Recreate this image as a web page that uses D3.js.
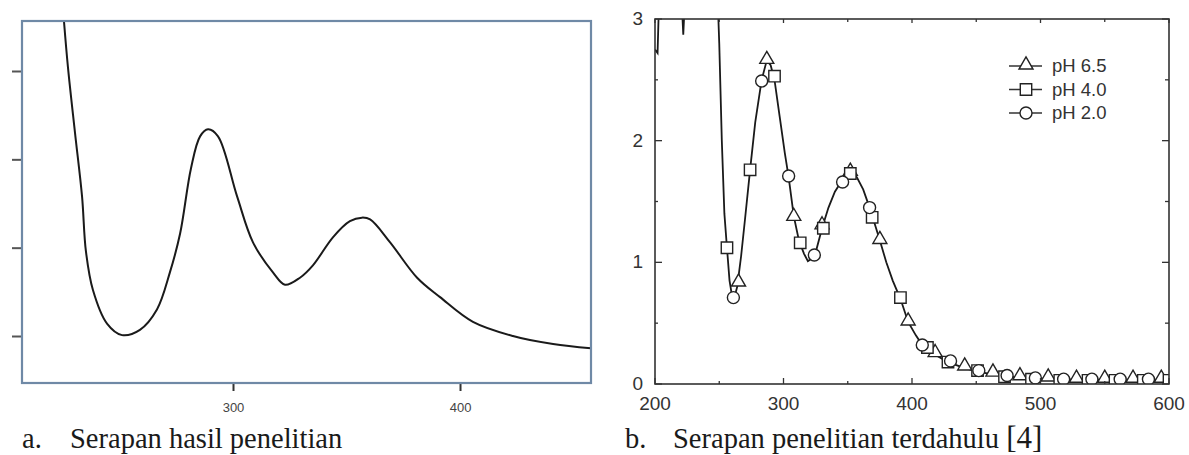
<!DOCTYPE html>
<html lang="id">
<head>
    <meta charset="UTF-8">
    <title>Serapan UV-Vis</title>
    <style>
        body { margin: 0; background: #fff; }
        #chart { width: 1189px; height: 455px; }
    </style>
</head>
<body>
    <div id="chart"></div>

    <script src="https://d3js.org/d3.v7.min.js"></script>
    <script>
        // ---- panel a: hasil penelitian (absorbance, no y labels) ----
        const aWave = [225.3, 227.3, 230.4, 233.5, 235.2, 238.3, 244.5, 251.1, 259.0, 266.5, 272.2, 276.7,
                       281.5, 285.5, 289.0, 293.4, 301.8, 308.8, 317.6, 322.9, 329.5, 335.2, 344.1, 351.5, 356.8, 360.4,
                       369.2, 381.1, 391.2, 405.7, 423.3, 441.0, 457.7];
        const aAbs  = [2.32, 2.02, 1.65, 1.29, 0.98, 0.76, 0.57, 0.505, 0.535, 0.65, 0.86, 1.08,
                       1.45, 1.63, 1.67, 1.63, 1.29, 1.03, 0.86, 0.79, 0.83, 0.90, 1.06, 1.15, 1.17, 1.16,
                       1.03, 0.83, 0.72, 0.58, 0.50, 0.455, 0.43];
        const aXTicks = [300, 400];
        const aYTicks = [0.5, 1.0, 1.5, 2.0];

        // ---- panel b: penelitian terdahulu ----
        const bLineWave = [200, 202, 203, 221, 222, 223, 249, 250, 252, 254, 256, 258, 260, 261.5, 264, 267, 270, 274,
                           278, 283, 287, 290, 293, 297, 301, 304, 308, 312, 316, 319, 322, 325, 330, 335, 340, 346,
                           350, 353, 357, 362, 367, 370, 375, 380, 385, 391, 397, 403, 408, 418, 428, 441, 452, 463,
                           475, 490, 510, 540, 570, 600];
        const bLineAbs  = [2.75, 2.72, 3.1, 3.1, 2.87, 3.1, 3.1, 2.8, 2.0, 1.4, 1.12, 0.85, 0.72, 0.70, 0.80, 1.05, 1.35, 1.76,
                           2.15, 2.5, 2.66, 2.62, 2.5, 2.2, 1.9, 1.7, 1.38, 1.18, 1.07, 1.01, 1.03, 1.08, 1.28, 1.45, 1.58, 1.68,
                           1.73, 1.74, 1.70, 1.60, 1.45, 1.35, 1.18, 1.0, 0.85, 0.70, 0.51, 0.40, 0.32, 0.24, 0.18, 0.13, 0.10, 0.08,
                           0.06, 0.05, 0.04, 0.035, 0.035, 0.035];

        const ph65Wave = [265, 287, 308, 330, 352, 375, 397, 418, 441, 463, 484, 506, 528, 550, 572, 594];
        const ph65Abs  = [0.83, 2.66, 1.37, 1.30, 1.74, 1.18, 0.51, 0.25, 0.14, 0.09, 0.06, 0.05, 0.04, 0.04, 0.04, 0.04];
        const ph40Wave = [256, 274, 293, 313, 331, 352, 369, 391, 412, 428, 451, 472, 493, 515, 537, 558, 580, 600];
        const ph40Abs  = [1.12, 1.76, 2.53, 1.16, 1.28, 1.73, 1.37, 0.71, 0.30, 0.18, 0.11, 0.06, 0.04, 0.03, 0.03, 0.03, 0.03, 0.03];
        const ph20Wave = [261, 283, 304, 324, 346, 367, 408, 430, 452, 474, 496, 518, 540, 562, 584];
        const ph20Abs  = [0.71, 2.49, 1.71, 1.06, 1.66, 1.45, 0.32, 0.19, 0.11, 0.07, 0.05, 0.04, 0.04, 0.04, 0.04];

        const bXTicks = [200, 300, 400, 500, 600];
        const bXMinor = [250, 350, 450, 550];
        const bYTicks = [0, 1, 2, 3];
        const bYMinor = [0.5, 1.5, 2.5];
        const legendNames = ["pH 6.5", "pH 4.0", "pH 2.0"];

        const svg = d3.select("#chart")
            .append("svg")
            .attr("width", 1189)
            .attr("height", 455);

        // ================= panel a =================
        const xa = d3.scaleLinear().domain([207.05, 457.7]).range([22, 591]);
        const ya = d3.scaleLinear().domain([0.234, 2.283]).range([383, 21]);

        svg.append("clipPath").attr("id", "clipA")
            .append("rect").attr("x", 22).attr("y", 21).attr("width", 569).attr("height", 362);

        svg.append("path")
            .datum(aWave.map((w, i) => [w, aAbs[i]]))
            .attr("clip-path", "url(#clipA)")
            .attr("fill", "none")
            .attr("stroke", "#1a1a1a")
            .attr("stroke-width", 2)
            .attr("d", d3.line().x(d => xa(d[0])).y(d => ya(d[1])).curve(d3.curveCatmullRom.alpha(0.5)));

        // left ticks (outside, no labels)
        svg.append("g")
            .attr("transform", "translate(22,0)")
            .call(d3.axisLeft(ya).tickValues(aYTicks).tickSize(10).tickFormat(""))
            .call(g => g.select(".domain").remove())
            .call(g => g.selectAll("line").attr("stroke", "#555").attr("stroke-width", 2));

        // bottom ticks + labels
        svg.append("g")
            .attr("transform", "translate(0,383)")
            .call(d3.axisBottom(xa).tickValues(aXTicks).tickSize(8).tickPadding(12).tickFormat(d3.format("d")))
            .call(g => g.select(".domain").remove())
            .call(g => g.selectAll("line").attr("stroke", "#333").attr("stroke-width", 2))
            .call(g => g.selectAll("text").attr("fill", "#444")
                .style("font-family", "Liberation Sans, Arial, sans-serif").style("font-size", "13px"));

        svg.append("rect")
            .attr("x", 22).attr("y", 21).attr("width", 569).attr("height", 362)
            .attr("fill", "none").attr("stroke", "#6f89a6").attr("stroke-width", 2.2);

        // ================= panel b =================
        const xb = d3.scaleLinear().domain([200, 600]).range([655, 1169]);
        const yb = d3.scaleLinear().domain([0, 3]).range([384, 19]);

        svg.append("clipPath").attr("id", "clipB")
            .append("rect").attr("x", 655).attr("y", 19).attr("width", 514).attr("height", 365);

        svg.append("path")
            .datum(bLineWave.map((w, i) => [w, bLineAbs[i]]))
            .attr("clip-path", "url(#clipB)")
            .attr("fill", "none")
            .attr("stroke", "#1a1a1a")
            .attr("stroke-width", 1.8)
            .attr("d", d3.line().x(d => xb(d[0])).y(d => yb(d[1])));

        const tri = d3.symbol().type(d3.symbolTriangle).size(85);
        const sq = d3.symbol().type(d3.symbolSquare).size(130);
        const series = [
            { wave: ph65Wave, abs: ph65Abs, shape: "tri" },
            { wave: ph40Wave, abs: ph40Abs, shape: "sq" },
            { wave: ph20Wave, abs: ph20Abs, shape: "circ" }
        ];

        function drawMarker(g, shape, cx, cy) {
            if (shape === "circ") {
                g.append("circle").attr("cx", cx).attr("cy", cy).attr("r", 6)
                    .attr("fill", "#fff").attr("stroke", "#222").attr("stroke-width", 1.4);
            } else {
                g.append("path")
                    .attr("d", shape === "tri" ? tri() : sq())
                    .attr("transform", `translate(${cx},${cy - (shape === "tri" ? 1 : 0)})`)
                    .attr("fill", "#fff").attr("stroke", "#222").attr("stroke-width", 1.4);
            }
        }

        const marks = svg.append("g").attr("clip-path", "url(#clipB)");
        series.forEach(s => {
            s.wave.forEach((w, i) => drawMarker(marks, s.shape, xb(w), yb(s.abs[i])));
        });

        // frame
        svg.append("rect")
            .attr("x", 655).attr("y", 19).attr("width", 514).attr("height", 365)
            .attr("fill", "none").attr("stroke", "#333").attr("stroke-width", 1.6);

        // inward ticks on all four sides
        const tk = svg.append("g").attr("stroke", "#333").attr("stroke-width", 1.3);
        bXTicks.forEach(v => {
            tk.append("line").attr("x1", xb(v)).attr("x2", xb(v)).attr("y1", yb(0)).attr("y2", yb(0) - 6);
            tk.append("line").attr("x1", xb(v)).attr("x2", xb(v)).attr("y1", yb(3)).attr("y2", yb(3) + 4);
        });
        bXMinor.forEach(v => {
            tk.append("line").attr("x1", xb(v)).attr("x2", xb(v)).attr("y1", yb(0)).attr("y2", yb(0) - 3);
            tk.append("line").attr("x1", xb(v)).attr("x2", xb(v)).attr("y1", yb(3)).attr("y2", yb(3) + 3);
        });
        bYTicks.forEach(v => {
            tk.append("line").attr("x1", xb(200)).attr("x2", xb(200) + 7).attr("y1", yb(v)).attr("y2", yb(v));
            tk.append("line").attr("x1", xb(600)).attr("x2", xb(600) - 7).attr("y1", yb(v)).attr("y2", yb(v));
        });
        bYMinor.forEach(v => {
            tk.append("line").attr("x1", xb(200)).attr("x2", xb(200) + 3).attr("y1", yb(v)).attr("y2", yb(v));
            tk.append("line").attr("x1", xb(600)).attr("x2", xb(600) - 4).attr("y1", yb(v)).attr("y2", yb(v));
        });

        const labFont = "Liberation Sans, Arial, sans-serif";
        svg.append("g").selectAll("text")
            .data(bXTicks).enter().append("text")
            .attr("x", d => xb(d)).attr("y", 410)
            .attr("text-anchor", "middle")
            .style("font-family", labFont).style("font-size", "19px").attr("fill", "#333")
            .text(d => d);
        svg.append("g").selectAll("text")
            .data(bYTicks).enter().append("text")
            .attr("x", 643).attr("y", d => yb(d) + 6)
            .attr("text-anchor", "end")
            .style("font-family", labFont).style("font-size", "19px").attr("fill", "#333")
            .text(d => d);

        // legend
        const legend = svg.append("g");
        legendNames.forEach((name, i) => {
            const ly = 66 + i * 23.5;
            legend.append("line").attr("x1", 1009).attr("x2", 1042).attr("y1", ly).attr("y2", ly)
                .attr("stroke", "#333").attr("stroke-width", 1.3);
            drawMarker(legend, series[i].shape, 1026, ly);
            legend.append("text")
                .attr("x", 1052).attr("y", ly + 6)
                .style("font-family", labFont).style("font-size", "18.5px").attr("fill", "#333")
                .text(name);
        });

        // ================= captions =================
        const capFont = "Liberation Serif, Times New Roman, serif";
        const caps = [
            { x: 22, label: "a.", tx: 70, text: "Serapan hasil penelitian" },
            { x: 625, label: "b.", tx: 673, text: "Serapan penelitian terdahulu " }
        ];
        caps.forEach(c => {
            svg.append("text").attr("x", c.x).attr("y", 448)
                .style("font-family", capFont).style("font-size", "28.5px").attr("fill", "#1a1a1a")
                .text(c.label);
            const t = svg.append("text").attr("x", c.tx).attr("y", 448)
                .style("font-family", capFont).style("font-size", "28.5px").attr("fill", "#1a1a1a")
                .text(c.text);
            if (c.label === "b.") {
                t.append("tspan").style("font-size", "31px").text("[4]");
            }
        });
    </script>
</body>
</html>
